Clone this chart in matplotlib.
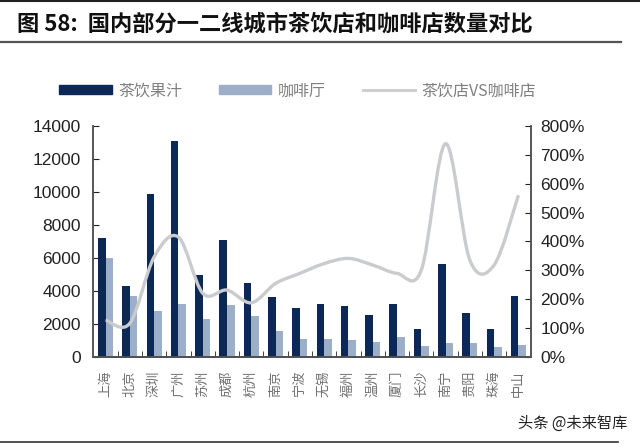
import numpy as np
import matplotlib
matplotlib.use("Agg")
import matplotlib.pyplot as plt
from matplotlib.path import Path
from matplotlib.patches import PathPatch, Patch
from matplotlib.lines import Line2D
from matplotlib.ticker import FuncFormatter, MultipleLocator

plt.rcParams['font.family'] = ['Noto Sans CJK SC', 'DejaVu Sans']

# 数据
cities = ["上海", "北京", "深圳", "广州", "苏州", "成都", "杭州", "南京", "宁波",
          "无锡", "福州", "温州", "厦门", "长沙", "南宁", "贵阳", "珠海", "中山"]
tea = [7200, 4300, 9900, 13100, 4950, 7100, 4450, 3600, 2950,
       3200, 3100, 2550, 3200, 1700, 5650, 2650, 1700, 3700]
coffee = [6000, 3700, 2750, 3200, 2300, 3150, 2450, 1550, 1100,
          1100, 1000, 900, 1200, 650, 850, 850, 570, 700]
ratio = [1.27, 1.16, 3.46, 4.15, 2.20, 2.31, 1.87, 2.54, 2.89,
         3.23, 3.41, 3.18, 2.89, 3.00, 7.39, 3.35, 3.18, 5.60]

dark = "#0b2856"
light = "#9dafc8"
line_c = "#c9cbce"
axis_c = "#555555"
num_font = ['Liberation Sans', 'DejaVu Sans']

fig = plt.figure(figsize=(6.4, 4.47), dpi=100)

# 标题与分隔线
fig.text(0.026, 0.946, "图 58:  国内部分一二线城市茶饮店和咖啡店数量对比",
         fontsize=16, fontweight="bold", va="center", ha="left", color="#111111")
fig.add_artist(Line2D([0, 1], [0.998, 0.998], color="#222222", lw=1.5))
fig.add_artist(Line2D([0, 0.97], [0.907, 0.907], color="#555555", lw=1.6))
fig.add_artist(Line2D([0, 0.966], [0.012, 0.012], color="#333333", lw=1.2))
fig.text(0.981, 0.054, "头条 @未来智库", fontsize=11, ha="right", va="center", color="#222222")

ax = fig.add_axes([0.146, 0.202, 0.683, 0.516])
x = np.arange(len(cities))
w = 0.31
ax.bar(x - w / 2, tea, width=w, color=dark, zorder=2)
ax.bar(x + w / 2, coffee, width=w, color=light, zorder=2)
ax.set_xlim(-0.5, len(cities) - 0.5)
ax.set_ylim(0, 14000)
ax.yaxis.set_major_locator(MultipleLocator(2000))
ax.set_xticks(x)
ax.set_xticklabels(cities, rotation=90, fontsize=9.5, color="#707070")
ax.tick_params(axis="x", length=0, pad=10)
ax.set_xticks(x[:-1] + 0.5, minor=True)
ax.tick_params(axis="x", which="minor", direction="in", length=4, color="#222222")
ax.tick_params(axis="y", direction="in", length=4, labelsize=12.5, colors="#222222", pad=9)
for lab in ax.get_yticklabels():
    lab.set_family(num_font)
for s in ["left", "right", "bottom"]:
    ax.spines[s].set_color(axis_c)
    ax.spines[s].set_linewidth(1.2)
ax.spines["bottom"].set_color("#222222")
ax.spines["top"].set_visible(False)

ax2 = ax.twinx()
ax2.set_ylim(0, 8)
ax2.yaxis.set_major_locator(MultipleLocator(1))
ax2.yaxis.set_major_formatter(FuncFormatter(lambda v, p: f"{v * 100:.0f}%"))
ax2.tick_params(axis="y", direction="in", length=4, labelsize=12.5, colors="#222222", pad=7)
for lab in ax2.get_yticklabels():
    lab.set_family(num_font)
for s in ["left", "right", "bottom"]:
    ax2.spines[s].set_color(axis_c)
    ax2.spines[s].set_linewidth(1.2)
ax2.spines["top"].set_visible(False)

# 平滑曲线 (Catmull-Rom -> Bezier)
pts = np.column_stack([x, ratio])
verts = [tuple(pts[0])]
codes = [Path.MOVETO]
for i in range(len(pts) - 1):
    p0 = pts[i - 1] if i > 0 else pts[i]
    p1 = pts[i]
    p2 = pts[i + 1]
    p3 = pts[i + 2] if i + 2 < len(pts) else pts[i + 1]
    c1 = p1 + (p2 - p0) / 6
    c2 = p2 - (p3 - p1) / 6
    verts += [tuple(c1), tuple(c2), tuple(p2)]
    codes += [Path.CURVE4] * 3
ax2.add_patch(PathPatch(Path(verts, codes), facecolor="none", edgecolor=line_c, lw=2.4, zorder=3))

handles = [Patch(color=dark), Patch(color=light), Line2D([], [], color=line_c, lw=2)]
labels = ["茶饮果汁", "咖啡厅", "茶饮店VS咖啡店"]
fig.legend(handles, labels, loc="center left", bbox_to_anchor=(0.092, 0.797), ncol=3,
           frameon=False, fontsize=11.5, handlelength=3.3, handleheight=0.5,
           handletextpad=0.4, columnspacing=2.3, borderpad=0, borderaxespad=0,
           labelcolor="#808080")

fig.savefig("out.png", dpi=100, facecolor="white")
